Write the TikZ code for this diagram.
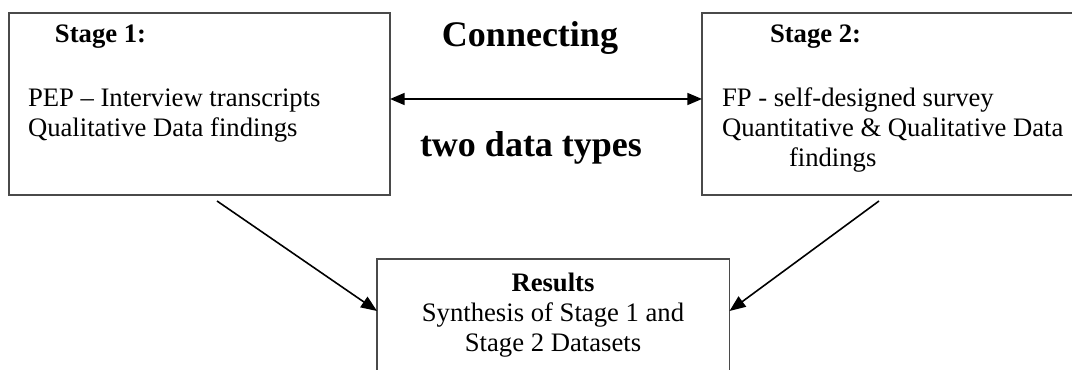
\documentclass[tikz,border=0pt]{standalone}
\usepackage{fontspec}
\setmainfont{Liberation Serif}
\usetikzlibrary{arrows.meta,calc}
\definecolor{boxgray}{HTML}{4A4A4A}
\tikzset{
  box/.style={draw=boxgray, line width=0.8pt, inner sep=0pt, outer sep=0pt, anchor=north west},
  txt/.style={inner sep=0pt, outer sep=0pt, anchor=base west, font=\fontsize{20}{24}\selectfont},
  ctxt/.style={txt, anchor=base},
  bigtxt/.style={inner sep=0pt, outer sep=0pt, anchor=base, font=\fontsize{27}{30}\selectfont\bfseries},
  link/.style={line width=1.2pt, -{Triangle[length=12pt,width=9.5pt]}},
  twolink/.style={line width=1.3pt, {Triangle[length=11pt,width=9pt]}-{Triangle[length=11pt,width=9pt]}}
}
\begin{document}
\begin{tikzpicture}[x=0.75pt, y=-0.75pt]
  \clip (0,0) rectangle (1072,370);
  \fill[white] (0,0) rectangle (1072,370);

  % stage boxes and the results box
  \node[box, minimum width=381*0.75pt, minimum height=182*0.75pt] (s1) at (9,13) {};
  \node[box, minimum width=380*0.75pt, minimum height=182*0.75pt] (s2) at (702,13) {};
  \node[box, minimum width=352.5*0.75pt, minimum height=130*0.75pt] (res) at (377,259) {};

  % stage 1 text
  \node[txt, font=\fontsize{20}{24}\selectfont\bfseries] (s1title) at (55,43) {Stage 1:};
  \node[txt] (s1a) at (28,107) {PEP – Interview transcripts};
  \node[txt] (s1b) at (28,137) {Qualitative Data findings};

  % stage 2 text
  \node[txt, font=\fontsize{20}{24}\selectfont\bfseries] (s2title) at (770,43) {Stage 2:};
  \node[txt] (s2a) at (722,107) {FP - self-designed survey};
  \node[txt] (s2b) at (722,137) {Quantitative \& Qualitative Data};
  \node[txt] (s2c) at (789,167) {findings};

  % results text
  \node[ctxt, font=\fontsize{20}{24}\selectfont\bfseries] (restitle) at (553,292) {Results};
  \node[ctxt] (resa) at (553,322) {Synthesis of Stage 1 and};
  \node[ctxt] (resb) at (553,352) {Stage 2 Datasets};

  % labels of the link between the stages
  \node[bigtxt] (conn) at (530,47) {Connecting};
  \node[bigtxt] (types) at (531,157) {two data types};

  % connectors
  \coordinate (s1r) at ($(s1.north east)+(0,86)$);
  \coordinate (s2l) at ($(s2.north west)+(0,86)$);
  \draw[twolink] (s1r) -- (s2l);

  \coordinate (s1out) at (217,201);
  \coordinate (s2out) at (879,201);
  \coordinate (resl) at ($(res.north west)+(0,52)$);
  \coordinate (resr) at ($(res.north east)+(0,52)$);
  \draw[link] (s1out) -- (resl);
  \draw[link] (s2out) -- (resr);
\end{tikzpicture}
\end{document}
